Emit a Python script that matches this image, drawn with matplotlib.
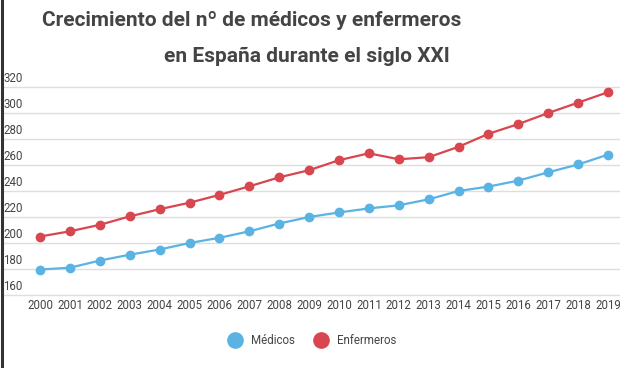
import matplotlib
matplotlib.use("Agg")
import matplotlib.pyplot as plt
from matplotlib.lines import Line2D

plt.rcParams['font.family'] = ['Roboto', 'DejaVu Sans']

# datos (miles)
years = list(range(2000, 2020))
medicos = [179.6, 181, 186.5, 191, 195, 200, 204, 209, 215, 220,
           223.5, 226.6, 229, 233.6, 240, 243.4, 248, 254.4, 260.4, 268]
enfermeros = [205, 209, 214, 220.5, 226, 231, 237, 243.6, 250.5, 256,
              263.7, 269, 264.4, 266, 274, 284, 291.5, 300, 308, 316]
yticks = [160, 180, 200, 220, 240, 260, 280, 300, 320]

blue = '#5BB3E3'
red = '#D8474F'
txt = '#444444'

fig = plt.figure(figsize=(6.2, 3.68), dpi=100)
ax = fig.add_axes([3 / 620, 70.4 / 368, 617 / 620, 221 / 368])

ax.plot(years, medicos, color=blue, lw=1.6, marker='o', ms=6, mec=blue)
ax.plot(years, enfermeros, color=red, lw=1.6, marker='o', ms=6, mec=red)

ax.set_xlim(1998.76, 2019.4)
ax.set_ylim(158, 328)
ax.set_xticks(years)
ax.set_xticklabels([str(y) for y in years], fontsize=8.3, color=txt)
ax.set_yticks(yticks)
ax.set_yticklabels([])
ax.tick_params(length=0, pad=1)
ax.grid(axis='y', color='#dedede', lw=1)
for s in ax.spines.values():
    s.set_visible(False)

# etiquetas del eje y encima de cada línea
for t in yticks:
    ax.text(0.0, t + 1.2, str(t), transform=ax.get_yaxis_transform(),
            ha='left', va='bottom', fontsize=8.3, color=txt)

# borde izquierdo oscuro
fig.add_artist(Line2D([1.5 / 620, 1.5 / 620], [0, 1], transform=fig.transFigure,
                      color='#333333', lw=2.2))

fig.text(252 / 620, 1 - 20 / 368, 'Crecimiento del nº de médicos y enfermeros',
         ha='center', va='center', fontsize=15, fontweight='bold', color=txt)
fig.text(307 / 620, 1 - 56 / 368, 'en España durante el siglo XXI',
         ha='center', va='center', fontsize=15, fontweight='bold', color=txt)

handles = [Line2D([], [], ls='none', marker='o', ms=11, color=blue),
           Line2D([], [], ls='none', marker='o', ms=11, color=red)]
fig.legend(handles, ['Médicos', 'Enfermeros'], loc='center', bbox_to_anchor=(0.5, 1 - 341 / 368),
           ncol=2, frameon=False, fontsize=8.3, labelcolor=txt, handletextpad=0.4, columnspacing=1.2)

fig.savefig('out.png', dpi=100)
